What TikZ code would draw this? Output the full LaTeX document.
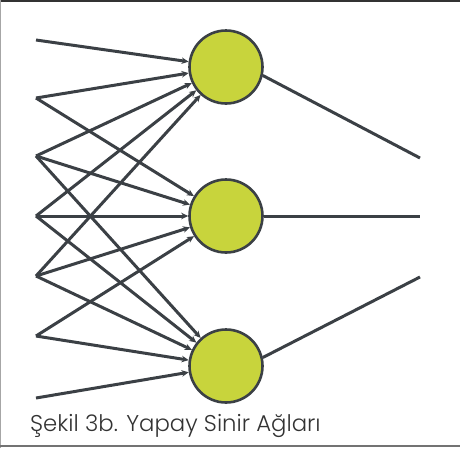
\documentclass[tikz,border=0pt]{standalone}
\usepackage{fontspec}
\newfontfamily\capfont{Poppins Light}
\usetikzlibrary{arrows.meta}
\definecolor{wire}{HTML}{3B4045}
\definecolor{cellfill}{HTML}{C8D43C}
\tikzset{
  neuron/.style={circle, draw=wire, line width=2.6pt, fill=cellfill, minimum size=73pt, inner sep=0pt},
  link/.style={draw=wire, line width=3pt, -{Stealth[length=7pt,width=6.5pt]}},
  outlink/.style={draw=wire, line width=3pt},
}
\begin{document}
\begin{tikzpicture}[x=1pt,y=-1pt]
  \useasboundingbox (0,0) rectangle (460,448);
  % frame rules
  \draw[color=black!80, line width=1.6pt] (0,0.8) -- (460,0.8);
  \draw[color=black!35, line width=1.4pt] (0.7,0) -- (0.7,448);
  \draw[color=black!55, line width=2pt] (0,445.5) -- (460,445.5);
  % inputs
  \foreach \i/\y in {1/40,2/98,3/156,4/216,5/276,6/336,7/398}
    \coordinate (in\i) at (36,\y);
  % hidden neurons
  \node[neuron] (n1) at (226,67) {};
  \node[neuron] (n2) at (226,216) {};
  \node[neuron] (n3) at (226,366) {};
  % output ends
  \coordinate (o1) at (420,158);
  \coordinate (o2) at (420,216);
  \coordinate (o3) at (420,277);
  % weighted inputs: each neuron takes five neighbouring inputs
  \foreach \i in {1,...,5} \draw[link] (in\i) -- (n1);
  \foreach \i in {2,...,6} \draw[link] (in\i) -- (n2);
  \foreach \i in {3,...,7} \draw[link] (in\i) -- (n3);
  % outputs
  \draw[outlink] (n1.-13) -- (o1);
  \draw[outlink] (n2.east) -- (o2);
  \draw[outlink] (n3.13) -- (o3);
  % caption
  \node[anchor=base west, inner sep=0pt, text=black!80, font=\capfont\fontsize{22.8}{26}\selectfont] (cap) at (30,431) {Şekil 3b. Yapay Sinir Ağları};
\end{tikzpicture}
\end{document}
